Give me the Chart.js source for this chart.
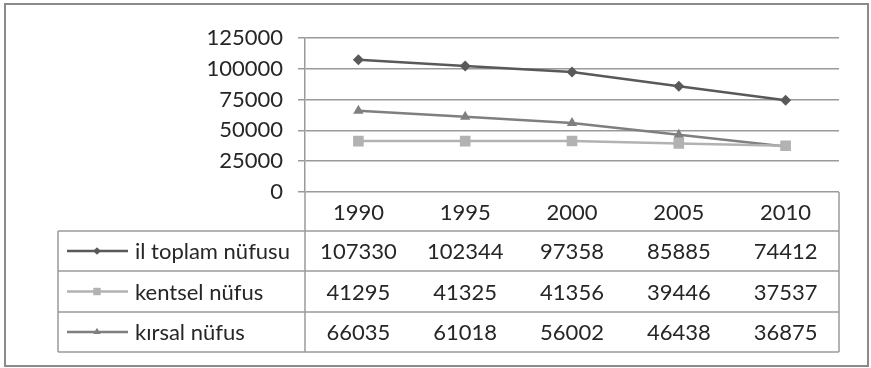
<!DOCTYPE html>
<html><head><meta charset="utf-8">
<script src="https://cdn.jsdelivr.net/npm/chart.js@4/dist/chart.umd.min.js"></script>
<style>html,body{margin:0;padding:0;background:#fff;}#wrap{width:871px;height:368px;}</style>
</head><body><div id="wrap"><canvas id="c" width="871" height="368"></canvas></div>
<script>
const years = ['1990','1995','2000','2005','2010'];
const seriesNames = ['il toplam nüfusu','kentsel nüfus','kırsal nüfus'];
const ilToplam = [107330,102344,97358,85885,74412];
const kentsel = [41295,41325,41356,39446,37537];
const kirsal = [66035,61018,56002,46438,36875];
const yTickValues = [0,25000,50000,75000,100000,125000];

const FONT = 'Lato, "Noto Sans", sans-serif';
const FSIZE = 22;
const TXT = '#262626';
const GRID = '#9a9a9a';
const colors = ['#595959','#b2b2b2','#7f7f7f'];
const shapes = ['rectRot','rect','triangle'];
const radii = [5.5,7.5,6];
const seriesData = [ilToplam, kentsel, kirsal];

const L = {tableLeft:58, tableRight:839, rows:[192,231,271,312,352]};

function marker(ctx, shape, x, y, r, color){
  ctx.save();
  ctx.fillStyle = color;
  ctx.beginPath();
  if (shape==='rectRot'){ ctx.moveTo(x, y-r); ctx.lineTo(x+r,y); ctx.lineTo(x,y+r); ctx.lineTo(x-r,y); }
  else if (shape==='rect'){ const s=r*Math.SQRT1_2; ctx.rect(x-s,y-s,2*s,2*s); }
  else { const s=r; ctx.moveTo(x, y-s); ctx.lineTo(x+s*0.866, y+s*0.5); ctx.lineTo(x-s*0.866, y+s*0.5); }
  ctx.closePath(); ctx.fill();
  ctx.restore();
}

const tablePlugin = {
  id:'dataTable',
  afterDraw(chart){
    const ctx = chart.ctx;
    const x = chart.scales.x;
    const yA = chart.scales.y;
    ctx.save();
    ctx.strokeStyle = '#8a8a8a'; ctx.lineWidth = 2;
    ctx.strokeRect(5,4,863,362);
    ctx.strokeStyle = GRID; ctx.lineWidth = 1.5;
    ctx.beginPath();
    for (let i=1;i<L.rows.length;i++){ ctx.moveTo(L.tableLeft, L.rows[i]); ctx.lineTo(L.tableRight, L.rows[i]); }
    ctx.moveTo(L.tableLeft, L.rows[1]); ctx.lineTo(L.tableLeft, L.rows[4]);
    ctx.moveTo(yA.right, L.rows[0]); ctx.lineTo(yA.right, L.rows[4]);
    ctx.moveTo(L.tableRight, L.rows[0]); ctx.lineTo(L.tableRight, L.rows[4]);
    ctx.stroke();
    ctx.font = FSIZE + 'px ' + FONT;
    ctx.textBaseline = 'middle';
    for (let s=0;s<3;s++){
      const cy = (L.rows[s+1]+L.rows[s+2])/2 + 1;
      ctx.strokeStyle = colors[s]; ctx.lineWidth = 2.5;
      ctx.beginPath(); ctx.moveTo(67, cy-1); ctx.lineTo(128, cy-1); ctx.stroke();
      marker(ctx, shapes[s], 97, cy-1, radii[s]*0.7, colors[s]);
      ctx.fillStyle = TXT; ctx.textAlign = 'left';
      ctx.fillText(seriesNames[s], 135, cy);
      ctx.textAlign = 'center';
      seriesData[s].forEach((v,i)=>{ ctx.fillText(String(v), x.getPixelForValue(i), cy); });
    }
    ctx.restore();
  }
};

new Chart(document.getElementById('c'), {
  type:'line',
  data:{
    labels: years,
    datasets: seriesNames.map((n,s)=>({
      label:n, data:seriesData[s], borderColor:colors[s], backgroundColor:colors[s],
      borderWidth:2.5, pointStyle:shapes[s], pointRadius:radii[s], pointBorderWidth:0,
      pointBackgroundColor:colors[s], tension:0, fill:false
    }))
  },
  options:{
    responsive:false, devicePixelRatio:1, animation:false,
    layout:{padding:{left:0, top:38, right:32, bottom:0}},
    plugins:{legend:{display:false}, tooltip:{enabled:false}},
    scales:{
      x:{
        offset:true,
        grid:{display:false, drawTicks:false},
        border:{display:false},
        ticks:{color:TXT, font:{family:FONT, size:FSIZE}, padding:8, maxRotation:0},
        afterFit(s){ s.height = 368-192; }
      },
      y:{
        min:0, max:125000,
        afterBuildTicks(s){ s.ticks = yTickValues.map(v=>({value:v})); },
        grid:{color:GRID, lineWidth:1.5, tickLength:7, drawTicks:true},
        border:{color:GRID, width:1.5},
        ticks:{color:TXT, font:{family:FONT, size:FSIZE}, padding:15, callback:(v)=>String(v)},
        afterFit(s){ s.width = 305; }
      }
    }
  },
  plugins:[tablePlugin]
});
</script></body></html>
